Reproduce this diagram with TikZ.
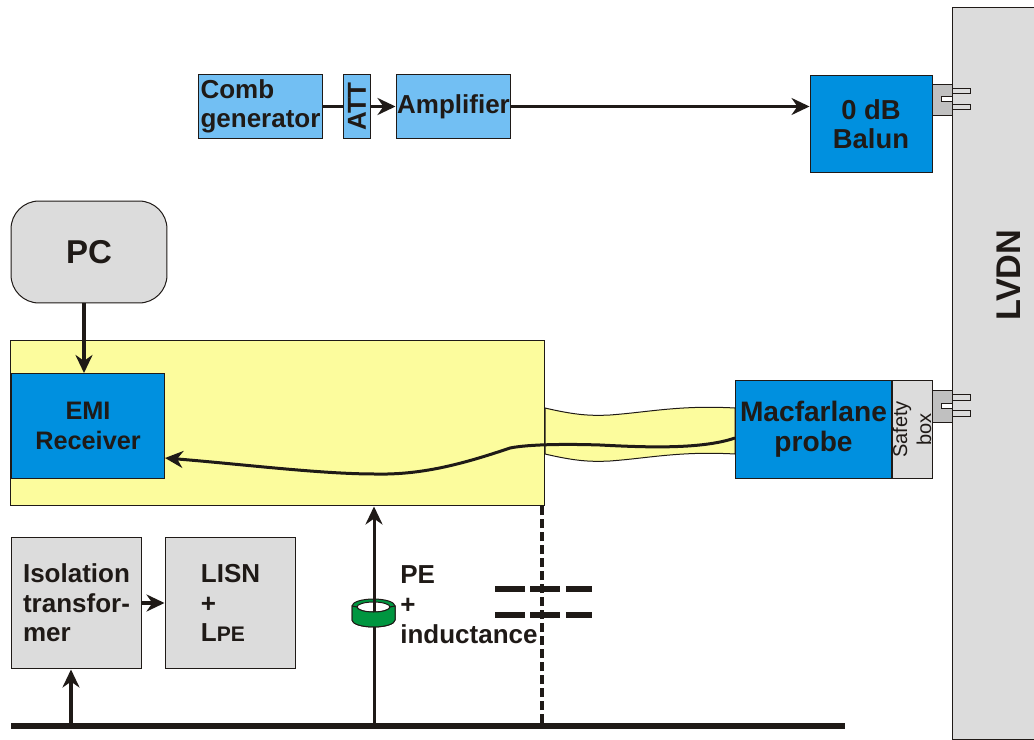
\documentclass[tikz,border=0pt]{standalone}
\usepackage{fontspec}
\setmainfont{Liberation Sans}
\usepackage{xcolor}
\usetikzlibrary{arrows.meta,positioning}
\definecolor{nInk}{HTML}{1F1A17}
\definecolor{lBlue}{HTML}{72BFF3}
\definecolor{dBlue}{HTML}{0090DF}
\definecolor{pGrey}{HTML}{DCDCDC}
\definecolor{cGrey}{HTML}{C0C0C0}
\definecolor{pYellow}{HTML}{FCFC9D}
\definecolor{tGreen}{HTML}{009640}
\tikzset{
  blockbox/.style={draw=nInk, line width=0.02cm, inner sep=0pt, align=left, text=nInk,
    font=\fontsize{14.8pt}{16.8pt}\selectfont\bfseries},
  combbox/.style={blockbox, fill=lBlue},
  bluebox/.style={blockbox, fill=dBlue, align=center},
  greybox/.style={blockbox, fill=pGrey},
  label/.style={inner sep=0pt, align=left, text=nInk,
    font=\fontsize{14.8pt}{17pt}\selectfont\bfseries},
  plug/.style={draw=nInk, line width=0.02cm, fill=cGrey, inner sep=0pt,
    minimum width=0.4cm, minimum height=0.64cm},
  pin/.style={draw=nInk, line width=0.02cm, fill=pGrey, inner sep=0pt,
    minimum width=0.36cm, minimum height=0.12cm},
  slot/.style={draw=nInk, line width=0.02cm, fill=white, inner sep=0pt,
    minimum width=0.22cm, minimum height=0.1cm},
  wire/.style={draw=nInk, line width=0.07cm},
  arrowwire/.style={wire, -{Stealth[length=0.36cm,width=0.34cm]}},
  ringedge/.style={draw=nInk, line width=0.02cm, fill=tGreen},
}
\begin{document}
\begin{tikzpicture}[x=0.02cm,y=-0.02cm]
  \useasboundingbox (0,0) rectangle (1034,740);
  % wall
  \node[greybox, minimum width=1.64cm, minimum height=14.66cm] (lvdn) at (993,373.5) {};
  \node[label, rotate=90, font=\fontsize{19.5pt}{20pt}\selectfont\bfseries] (lvdnlabel) at (1009,275) {LVDN};
  % signal chain
  \node[combbox, minimum width=2.5cm, minimum height=1.3cm] (comb) at (260.5,106.5) {Comb\\generator};
  \node[combbox, rotate=90, minimum width=1.3cm, minimum height=0.54cm] (att) at (357,106.5) {ATT};
  \node[combbox, minimum width=2.3cm, minimum height=1.3cm] (amp) at (453.5,106.5) {Amplifier};
  \node[bluebox, font=\fontsize{15.6pt}{16.8pt}\selectfont\bfseries, minimum width=2.44cm, minimum height=1.96cm] (balun) at (871,124) {0 dB\\Balun};
  \draw[wire, line width=0.08cm] (comb) -- (att);
  \draw[arrowwire] (att) -- (amp);
  \draw[arrowwire, line width=0.05cm] (amp) -- (balun.west |- amp);
  % plugs in the wall
  \foreach \name/\y in {top/100,low/406.5} {
    \node[pin] (pina\name) at (961,\y-9) {};
    \node[pin] (pinb\name) at (961,\y+7) {};
    \node[plug] (plug\name) at (942,\y) {};
    \node[slot] (slot\name) at (946.5,\y-1) {};
  }
  % enclosure
  \node[blockbox, fill=pYellow, minimum width=10.7cm, minimum height=3.32cm] (encl) at (277.5,423) {};
  \node[blockbox, fill=pGrey, rounded corners=0.56cm, minimum width=3.12cm, minimum height=2.04cm,
    font=\fontsize{18.8pt}{20pt}\selectfont\bfseries] (pc) at (89,252) {PC};
  \node[bluebox, font=\fontsize{14.4pt}{17pt}\selectfont\bfseries, minimum width=3.08cm, minimum height=2.1cm] (emi) at (88,426) {EMI\\Receiver};
  \coordinate (pcout) at (84,303);
  \draw[arrowwire] (pcout) -- (pcout |- emi.north);
  % cable
  \draw[draw=nInk, line width=0.02cm, fill=pYellow] (545,408) .. controls (575,415) and (590,416) .. (610,415)
    .. controls (650,412) and (680,405) .. (735,408) -- (735,454)
    .. controls (680,451) and (650,458) .. (610,461) .. controls (590,462) and (575,461) .. (545,454) -- cycle;
  \node[bluebox, font=\fontsize{16pt}{17pt}\selectfont\bfseries, minimum width=3.14cm, minimum height=1.98cm] (probe) at (813.5,429.5) {Macfarlane\\probe};
  \node[greybox, rotate=90, align=center, font=\fontsize{11.4pt}{13.6pt}\selectfont, minimum width=1.98cm, minimum height=0.8cm] (safety) at (912,429.5) {Safety\\box};
  \coordinate (probeout) at (735,438);
  \coordinate (emiin) at (165,458);
  \draw[arrowwire, line width=0.06cm] (probeout) .. controls (700,450) and (640,447) .. (600,445)
    .. controls (570,444) and (530,444) .. (510,448)
    .. controls (460,465) and (420,475) .. (375,474)
    .. controls (320,474) and (240,464) .. (emiin);
  % lower boxes
  \node[greybox, minimum width=2.62cm, minimum height=2.64cm] (iso) at (76.5,603) {Isolation\\transfor-\\mer};
  \node[greybox, minimum width=2.62cm, minimum height=2.64cm] (lisn) at (230.5,603) {LISN\\+\\L{\fontsize{12pt}{17pt}\selectfont PE}};
  \draw[arrowwire] (iso) -- (lisn);
  % earth bar
  \coordinate (barl) at (11,726);
  \coordinate (barr) at (845,726);
  \coordinate (barnet) at (71,726);
  \coordinate (barpe) at (374,726);
  \coordinate (barcap) at (542,723);
  \draw[wire, line width=0.12cm] (barl) -- (barr);
  \draw[arrowwire] (barnet) -- (barnet |- iso.south);
  % ring core, back part
  \path[ringedge] (352,606) -- (352,620) arc[start angle=180, end angle=0, x radius=21.5, y radius=7]
    -- (395,606) arc[start angle=0, end angle=-180, x radius=21.5, y radius=7] -- cycle;
  \path[draw=nInk, line width=0.02cm, fill=white] (373.5,607) ellipse[x radius=16.5, y radius=5];
  \draw[arrowwire, line width=0.06cm] (barpe) -- (barpe |- encl.south);
  % ring core, front part
  \path[ringedge] (352,606) -- (352,620) arc[start angle=180, end angle=0, x radius=21.5, y radius=7]
    -- (395,606) -- (390,607) arc[start angle=0, end angle=180, x radius=16.5, y radius=5] -- cycle;
  \node[label, anchor=west] (pelabel) at (400,605) {PE\\+\\inductance};
  % coupling capacitance
  \draw[wire, dash pattern=on 0.19cm off 0.07cm] (barcap) -- (barcap |- encl.south);
  \foreach \y in {589,615} {
    \draw[wire, line width=0.12cm, dash pattern=on 0.6cm off 0.1cm on 0.6cm off 0.12cm on 0.52cm off 1cm] (495,\y) -- (592,\y);
  }
\end{tikzpicture}
\end{document}
